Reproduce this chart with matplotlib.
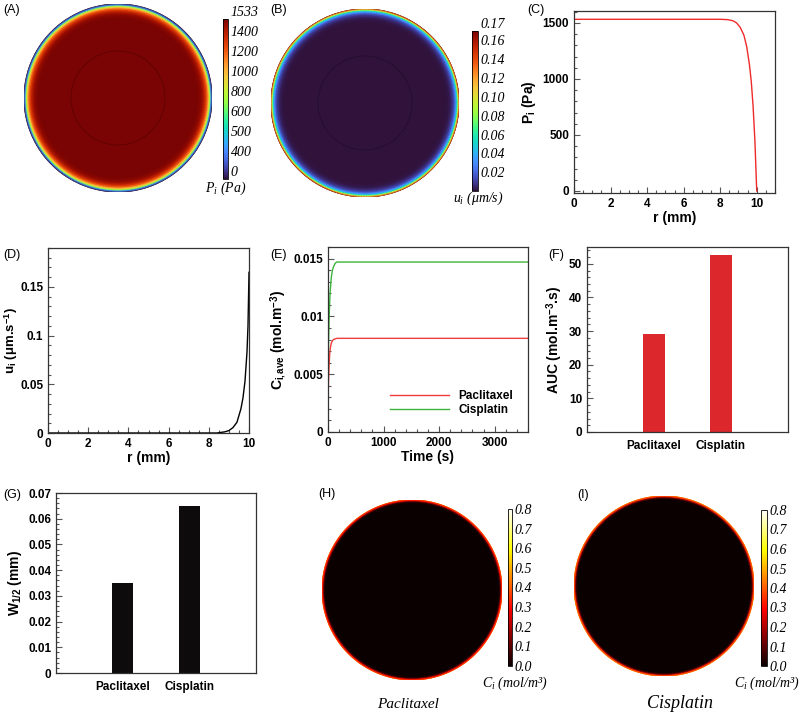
import numpy as np
import matplotlib
matplotlib.use('Agg')
import matplotlib.pyplot as plt
from matplotlib.colors import Normalize, FuncNorm
from matplotlib.patches import Circle
from matplotlib.ticker import MultipleLocator, AutoMinorLocator, FormatStrFormatter

plt.rcParams['font.family'] = ['Liberation Sans', 'DejaVu Sans']
plt.rcParams['font.weight'] = 'bold'
plt.rcParams['axes.labelweight'] = 'bold'
plt.rcParams['mathtext.fontset'] = 'custom'
plt.rcParams['mathtext.rm'] = 'Liberation Sans:bold'
plt.rcParams['mathtext.it'] = 'Liberation Serif:italic:normal'
plt.rcParams['mathtext.bf'] = 'Liberation Sans:bold'

# ---- data ----
# interstitial pressure vs radius (mm)
r_p = [0, 8.0, 8.4, 8.7, 8.9, 9.1, 9.3, 9.45, 9.6, 9.7, 9.8, 9.9, 10.0]
p_i = [1533, 1533, 1530, 1520, 1500, 1460, 1390, 1290, 1130, 980, 760, 450, 0]

# interstitial fluid velocity vs radius (mm)
r_u = [0, 8.4, 8.8, 9.0, 9.2, 9.4, 9.6, 9.7, 9.8, 9.9, 9.95, 10.0]
u_i = [0, 0, 0.0012, 0.0025, 0.0055, 0.011, 0.025, 0.036, 0.053, 0.083, 0.11, 0.165]

# drug concentration vs radius (mm)
r_c = [0, 9.6, 9.75, 9.85, 9.95, 10.0]
c_ptx = [0, 0, 0.03, 0.12, 0.3, 0.42]
c_cis = [0, 0, 0.04, 0.15, 0.34, 0.46]

# average concentration vs time
t_s = [0, 10, 20, 30, 40, 60, 80, 100, 130, 160, 200, 300, 3600]
cave_ptx = [0.0028, 0.0045, 0.0058, 0.0067, 0.0072, 0.0077, 0.0079, 0.0080, 0.00805, 0.0081, 0.0081, 0.0081, 0.0081]
cave_cis = [0.0050, 0.0078, 0.0098, 0.0112, 0.0122, 0.0134, 0.0140, 0.0143, 0.0146, 0.0147, 0.0147, 0.0147, 0.0147]

drugs = ['Paclitaxel', 'Cisplatin']
auc = [29.0, 52.5]
w_half = [0.035, 0.065]

p_levels = [0, 400, 500, 600, 800, 1000, 1200, 1400, 1533]
u_ticks = [0.02, 0.04, 0.06, 0.08, 0.10, 0.12, 0.14, 0.16, 0.17]
c_ticks = [0.0, 0.1, 0.2, 0.3, 0.4, 0.5, 0.6, 0.7, 0.8]

W, H = 800, 717
fig = plt.figure(figsize=(8, 7.17), dpi=100)


def box(x0, y0, x1, y1):
    # pixel box (top-left origin) -> figure fraction rect
    return [x0 / W, 1 - y1 / H, (x1 - x0) / W, (y1 - y0) / H]


def disc(cx, cy, rad, r, vals, cmap, norm, ring=True):
    ax = fig.add_axes(box(cx - rad, cy - rad, cx + rad, cy + rad))
    th = np.linspace(0, 2 * np.pi, 361)
    R, T = np.meshgrid(r, th)
    V = np.tile(np.asarray(vals, float), (len(th), 1))
    m = ax.pcolormesh(R * np.cos(T), R * np.sin(T), V, cmap=cmap, norm=norm,
                      shading='gouraud')
    if ring:
        ax.add_patch(Circle((0, 0), 5, fill=False, lw=0.6, ec='k', alpha=0.25))
    ax.set_xlim(-10, 10)
    ax.set_ylim(-10, 10)
    ax.set_aspect('equal')
    ax.axis('off')
    return m


def cbar(m, rect, ticks, labels, size=10):
    cax = fig.add_axes(box(*rect))
    cb = fig.colorbar(m, cax=cax)
    cb.set_ticks(ticks, labels=labels)
    cb.outline.set_linewidth(0.6)
    cax.tick_params(length=0, pad=2)
    for lb in cax.get_yticklabels():
        lb.set_fontfamily('Liberation Serif')
        lb.set_fontstyle('italic')
        lb.set_fontweight('normal')
        lb.set_fontsize(size)
    return cb


def style(ax):
    for s in ax.spines.values():
        s.set_linewidth(0.9)
        s.set_color('#333333')
    ax.tick_params(which='both', direction='in', top=False, right=False,
                   labelsize=8.5, width=0.8, color='#555555')
    ax.tick_params(which='major', length=4)
    ax.tick_params(which='minor', length=2)


def cb_title(x, y, txt, size=10):
    fig.text(x / W, 1 - y / H, txt, ha='center', va='center', fontsize=size,
             family='Liberation Serif', style='italic', weight='normal')


def panel(x, y, txt):
    fig.text(x / W, 1 - y / H, txt, ha='left', va='center', fontsize=9,
             weight='normal')


# ---- (A) pressure field ----
pos = np.linspace(0, 1, len(p_levels))
p_norm = FuncNorm((lambda x: np.interp(np.asarray(x, float), p_levels, pos),
                   lambda y: np.interp(np.asarray(y, float), pos, p_levels)),
                  vmin=0, vmax=1533)
mA = disc(118, 98, 94, r_p, p_i, 'turbo', p_norm)
cbA = cbar(mA, (223, 19, 228, 179), p_levels, [str(v) for v in p_levels])
for lb in cbA.ax.get_yticklabels():
    lb.set_va('bottom')
cb_title(226, 188, '$P_i$ (Pa)')

# ---- (B) velocity field ----
mB = disc(365, 103, 94, r_u, u_i, 'turbo', Normalize(0, 0.17))
cbB = cbar(mB, (472, 31, 478, 191), u_ticks, ['%.2f' % v for v in u_ticks])
cbB.ax.get_yticklabels()[-1].set_va('bottom')
cb_title(478, 198, '$u_i$ (μm/s)')

# ---- (C) pressure profile ----
axC = fig.add_axes(box(574, 11, 775, 193))
axC.plot(r_p, p_i, color='#ee2a2a', lw=1)
axC.set_xlim(0, 11)
axC.set_ylim(-18, 1607)
axC.xaxis.set_major_locator(MultipleLocator(2))
axC.xaxis.set_minor_locator(AutoMinorLocator(4))
axC.yaxis.set_major_locator(MultipleLocator(500))
axC.yaxis.set_minor_locator(AutoMinorLocator(5))
axC.set_xlabel('r (mm)', fontsize=10, labelpad=1)
axC.set_ylabel('P$_\\mathrm{i}$ (Pa)', fontsize=10, labelpad=3)
style(axC)

# ---- (D) velocity profile ----
axD = fig.add_axes(box(48, 248, 249, 433))
axD.plot(r_u, u_i, color='k', lw=1)
axD.set_xlim(0, 10)
axD.set_ylim(0, 0.19)
axD.xaxis.set_major_locator(MultipleLocator(2))
axD.xaxis.set_minor_locator(AutoMinorLocator(4))
axD.yaxis.set_major_locator(MultipleLocator(0.05))
axD.yaxis.set_minor_locator(AutoMinorLocator(5))
axD.yaxis.set_major_formatter(FormatStrFormatter('%g'))
axD.set_xlabel('r (mm)', fontsize=10, labelpad=1)
axD.set_ylabel('u$_\\mathrm{i}$ (μm.s$^{-1}$)', fontsize=9.5, labelpad=0)
style(axD)

# ---- (E) average concentration vs time ----
axE = fig.add_axes(box(328, 247, 528, 432))
axE.plot(t_s, cave_ptx, color='#f03c3c', lw=1, label=drugs[0])
axE.plot(t_s, cave_cis, color='#3cb43c', lw=1, label=drugs[1])
axE.set_xlim(0, 3600)
axE.set_ylim(0, 0.016)
axE.xaxis.set_major_locator(MultipleLocator(1000))
axE.xaxis.set_minor_locator(AutoMinorLocator(5))
axE.yaxis.set_major_locator(MultipleLocator(0.005))
axE.yaxis.set_minor_locator(AutoMinorLocator(5))
axE.yaxis.set_major_formatter(FormatStrFormatter('%g'))
axE.set_xlabel('Time (s)', fontsize=10, labelpad=1)
axE.set_ylabel('C$_\\mathrm{i,ave}$ (mol.m$^{-3}$)', fontsize=10, labelpad=3)
axE.legend(loc='lower right', bbox_to_anchor=(0.95, 0.06), frameon=False,
           prop={'size': 8.5, 'weight': 'bold'}, handlelength=5,
           handletextpad=0.8, labelspacing=0.2, borderaxespad=0)
style(axE)

# ---- (F) AUC bars ----
axF = fig.add_axes(box(587, 247, 788, 432))
axF.bar([1, 2], auc, width=0.32, color='#dc282d')
axF.set_xlim(0, 3)
axF.set_ylim(0, 55)
axF.set_xticks([1, 2], drugs)
axF.yaxis.set_major_locator(MultipleLocator(10))
axF.yaxis.set_minor_locator(AutoMinorLocator(5))
axF.set_ylabel('AUC (mol.m$^{-3}$.s)', fontsize=10, labelpad=3)
style(axF)
axF.tick_params(axis='x', length=0, pad=6)

# ---- (G) penetration width bars ----
axG = fig.add_axes(box(56, 493, 256, 673))
axG.bar([1, 2], w_half, width=0.32, color='#0d0b0b')
axG.set_xlim(0, 3)
axG.set_ylim(0, 0.07)
axG.set_xticks([1, 2], drugs)
axG.yaxis.set_major_locator(MultipleLocator(0.01))
axG.yaxis.set_minor_locator(AutoMinorLocator(5))
axG.yaxis.set_major_formatter(FormatStrFormatter('%g'))
axG.set_ylabel('W$_\\mathrm{1/2}$ (mm)', fontsize=10, labelpad=3)
style(axG)
axG.tick_params(axis='x', length=0, pad=6)

# ---- (H), (I) concentration fields ----
c_norm = Normalize(0, 0.8)
mH = disc(412, 590, 90, r_c, c_ptx, 'hot', c_norm, ring=False)
cbar(mH, (508, 509, 512, 666), c_ticks, ['%.1f' % v for v in c_ticks])
cb_title(515, 683, '$C_i$ (mol/m³)')
mI = disc(664, 586, 90, r_c, c_cis, 'hot', c_norm, ring=False)
cbar(mI, (761, 510, 767, 666), c_ticks, ['%.1f' % v for v in c_ticks])
cb_title(767, 683, '$C_i$ (mol/m³)')

fig.text(408 / W, 1 - 705 / H, 'Paclitaxel', ha='center', va='center', fontsize=11,
         family='Liberation Serif', style='italic', weight='normal')
fig.text(680 / W, 1 - 703 / H, 'Cisplatin', ha='center', va='center', fontsize=13,
         family='Liberation Serif', style='italic', weight='normal')

# panel letters
panel(3, 10, '(A)')
panel(270, 10, '(B)')
panel(527, 10, '(C)')
panel(3, 255, '(D)')
panel(270, 255, '(E)')
panel(548, 255, '(F)')
panel(3, 495, '(G)')
panel(318, 494, '(H)')
panel(577, 495, '(I)')

fig.savefig('out.png', dpi=100)
